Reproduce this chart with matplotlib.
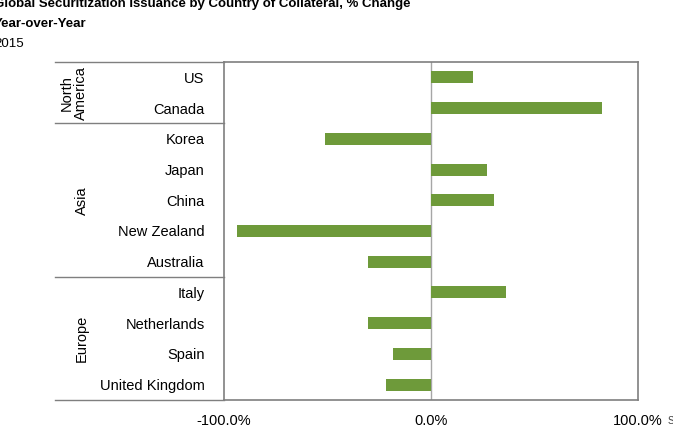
import numpy as np
import matplotlib
matplotlib.use('Agg')
import matplotlib.pyplot as plt

plt.rcParams['font.family'] = ['Liberation Sans', 'DejaVu Sans']

countries = ['US', 'Canada', 'Korea', 'Japan', 'China', 'New Zealand',
             'Australia', 'Italy', 'Netherlands', 'Spain', 'United Kingdom']
change_pct = [20.1, 82.6, -51.4, 27.0, 30.6, -93.9, -30.2, 36.4, -30.3, -18.2, -21.9]
groups = ['North\nAmerica', 'Asia', 'Europe']
group_sizes = [2, 5, 4]
xticks = [-100, 0, 100]
xtick_labels = ['-100.0%', '0.0%', '100.0%']

W, H = 673, 434
fig = plt.figure(figsize=(W / 100, H / 100), dpi=100)
ax = fig.add_axes([224 / W, 1 - 400 / H, 414 / W, 338 / H])

y = np.arange(len(countries))
ax.barh(y, change_pct, height=0.39, color='#6e9a3a', zorder=3)
ax.axvline(0, color='#a6a6a6', lw=1.0, zorder=2)

ax.set_xlim(-100, 100)
ax.set_ylim(len(countries) - 0.5, -0.5)
ax.set_xticks(xticks)
ax.set_xticklabels(xtick_labels, fontsize=10.5)
ax.set_yticks(y)
ax.set_yticklabels(countries, fontsize=10.5)
ax.tick_params(axis='both', length=0, colors='#000000')
ax.tick_params(axis='y', pad=14)
ax.tick_params(axis='x', pad=10)
for s in ax.spines.values():
    s.set_color('#7f7f7f')
    s.set_linewidth(1.2)

# group separators and labels on the left side
tr = ax.get_yaxis_transform()
x_left = (55 - 224) / 414
bounds = [-0.5]
for n in group_sizes:
    bounds.append(bounds[-1] + n)
for b in bounds:
    ax.plot([x_left, 0], [b, b], color='#7f7f7f', lw=1.0, transform=tr, clip_on=False)
label_x = [(74 - 224) / 414, (82 - 224) / 414, (82 - 224) / 414]
for g, lx, b0, b1 in zip(groups, label_x, bounds[:-1], bounds[1:]):
    ax.text(lx, (b0 + b1) / 2, g, rotation=90, ha='center', va='center',
            fontsize=10.5, transform=tr, linespacing=1.0)

# title block (cut off at left/top like the original)
fig.text(-6 / W, 1 - 7 / H, 'Global Securitization Issuance by Country of Collateral, % Change',
         fontsize=9.5, fontweight='bold', ha='left', va='baseline')
fig.text(-6 / W, 1 - 27 / H, 'Year-over-Year', fontsize=9.5, fontweight='bold',
         ha='left', va='baseline')
fig.text(-6 / W, 1 - 47 / H, '2015', fontsize=9.5, ha='left', va='baseline')
fig.text(668 / W, 1 - 424 / H, 'Source', fontsize=7, color='#404040',
         ha='left', va='baseline')

fig.savefig('out.png', dpi=100)
